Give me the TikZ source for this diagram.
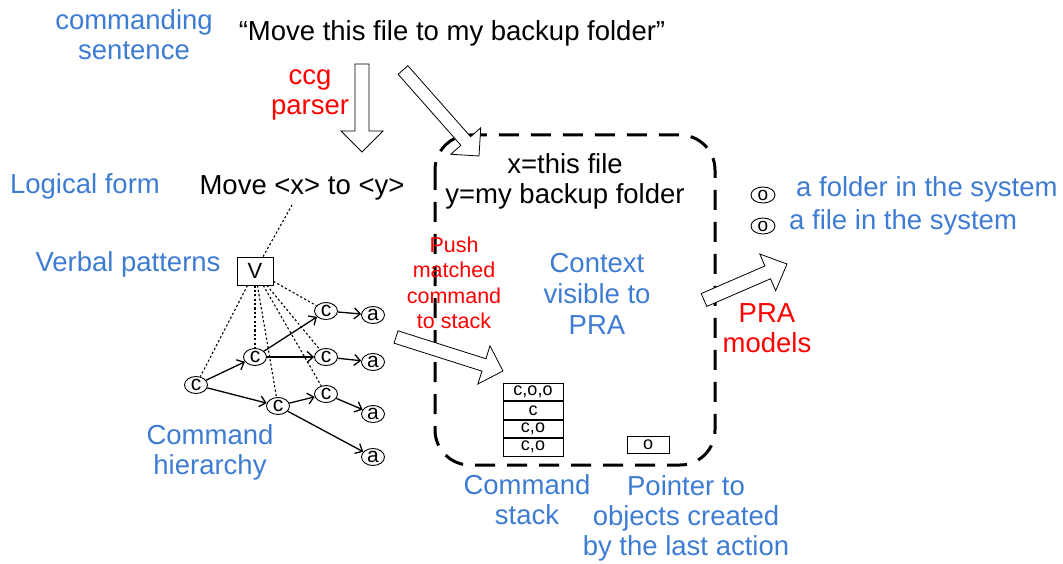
\documentclass[tikz,border=0pt]{standalone}
\usepackage{fontspec}
\setmainfont{Liberation Sans}
\usetikzlibrary{calc,shapes.geometric,arrows.meta}

\definecolor{lblblue}{RGB}{62,124,212}
\definecolor{lblred}{RGB}{255,0,0}

\tikzset{
  % hollow block arrow drawn along +x: length / shaft half-width / head half-width / head length
  pics/barrow/.style n args={4}{code={
    \draw[line width=0.8pt, fill=white, line join=miter]
      (0,#2) -- ({#1-#4},#2) -- ({#1-#4},#3) -- (#1,0) -- ({#1-#4},-#3)
      -- ({#1-#4},-#2) -- (0,-#2) -- cycle;
  }},
  big/.style={font=\fontsize{27.5}{30}\selectfont, align=center, inner sep=0pt},
  bluetext/.style={big, text=lblblue},
  redtext/.style={big, text=lblred},
  smallred/.style={font=\fontsize{21.5}{25.5}\selectfont, align=center, inner sep=0pt, text=lblred},
  gnode/.style={ellipse, draw, line width=0.9pt, inner sep=0pt,
    minimum width=23pt, minimum height=17pt, font=\fontsize{21}{21}\selectfont},
  onode/.style={ellipse, draw, line width=0.9pt, inner sep=0pt,
    minimum width=24pt, minimum height=16pt, font=\fontsize{19}{19}\selectfont},
  edge/.style={line width=1.3pt, -{Straight Barb[length=6pt,width=11pt,line width=1.3pt]}},
  pattern/.style={line width=1.1pt, dash pattern=on 2.2pt off 2.2pt},
  cell/.style={draw, line width=0.9pt, minimum width=60pt, minimum height=17.5pt,
    inner sep=0pt, font=\fontsize{18}{18}\selectfont},
}

% hollow arrow from one named point to another
\newcommand\hollowarrow[5]{%
  \path let \p1=($(#2)-(#1)$), \n1={veclen(\x1,\y1)}, \n2={atan2(\y1,\x1)} in
    (#1) pic[rotate=\n2]{barrow={\n1}{#3}{#4}{#5}};}

\begin{document}
\begin{tikzpicture}[x=1pt, y=-1pt]
  \useasboundingbox (0,0) rectangle (1063,564);

  % ---- sentence and parsing ----
  \node[bluetext] (cmdlbl) at (134,35) {commanding\\sentence};
  \node[big] (sentence) at (452,33) {“Move this file to my backup folder”};
  \node[redtext] (ccg) at (310,95) {ccg\\parser};

  \node[bluetext] (lflbl) at (85,186) {Logical form};
  \node[big] (lf) at (302,188) {Move <x> to <y>};
  \coordinate (lfx) at (292,205);

  \node[bluetext] (vplbl) at (128,264) {Verbal patterns};
  \node[draw, line width=0.9pt, minimum width=36pt, minimum height=28pt, inner sep=0pt,
        font=\fontsize{22}{22}\selectfont] (V) at (255,271) {V};
  \node[bluetext] (hierlbl) at (210,452) {Command\\hierarchy};

  % ---- command hierarchy ----
  \node[gnode] (c1) at (196,385) {c};
  \node[gnode] (c2) at (255,357) {c};
  \node[gnode] (c3) at (278,406) {c};
  \node[gnode] (c4) at (326,311) {c};
  \node[gnode] (c5) at (326,357) {c};
  \node[gnode] (c6) at (326,394) {c};
  \node[gnode] (a1) at (373,315) {a};
  \node[gnode] (a2) at (373,362) {a};
  \node[gnode] (a3) at (373,414) {a};
  \node[gnode] (a4) at (373,457) {a};

  \draw[pattern] (V) -- (lfx);
  \foreach \t in {c1,c2,c3,c4,c5,c6} \draw[pattern] (V) -- (\t);

  \draw[edge] (c1) -- (c2);
  \draw[edge] (c1) -- (c3);
  \draw[edge] (c2) -- (c4);
  \draw[edge] (c2) -- (c5);
  \draw[edge] (c3) -- (c6);
  \draw[edge] (c4) -- (a1);
  \draw[edge] (c5) -- (a2);
  \draw[edge] (c6) -- (a3);
  \draw[edge] (c3) -- (a4);

  % ---- context visible to PRA ----
  \draw[line width=3pt, dash pattern=on 20pt off 12pt, rounded corners=35pt]
    (435,135) rectangle (715,465);
  \node[big] (bind) at (565,181) {x=this file\\y=my backup folder};
  \node[smallred] (push) at (454,283) {Push\\matched\\command\\to stack};
  \node[bluetext, font=\fontsize{27.5}{31}\selectfont] (ctx) at (597,294) {Context\\visible to\\PRA};

  \node[cell] (s1) at (533,392) {c,o,o};
  \node[cell, anchor=north] (s2) at (s1.south) {c};
  \node[cell, anchor=north] (s3) at (s2.south) {c,o};
  \node[cell, anchor=north] (s4) at (s3.south) {c,o};
  \node[cell, minimum width=42pt, minimum height=17pt] (ptr) at (648,444.5) {o};

  \node[bluetext] (stacklbl) at (527,500) {Command\\stack};
  \node[bluetext] (ptrlbl) at (686,518) {Pointer to\\objects created\\by the last action};

  % ---- objects in the system ----
  \node[onode] (o1) at (763,195) {o};
  \node[onode] (o2) at (763,226) {o};
  \node[bluetext, anchor=west] (folder) at (796,189) {a folder in the system};
  \node[bluetext, anchor=west] (file) at (789,222) {a file in the system};
  \node[redtext] (pra) at (767,328) {PRA\\models};

  % ---- hollow block arrows ----
  \coordinate (ccgA) at (362,64);   \coordinate (ccgB) at (362,152);
  \coordinate (diagA) at (403,70);  \coordinate (diagB) at (479,156);
  \coordinate (pushA) at (396,337); \coordinate (pushB) at (503,371);
  \coordinate (praA) at (704,300);  \coordinate (praB) at (787,264);
  \hollowarrow{ccgA}{ccgB}{7}{21}{21}
  \hollowarrow{diagA}{diagB}{6.5}{20}{20}
  \hollowarrow{pushA}{pushB}{6.5}{20}{20}
  \hollowarrow{praA}{praB}{7}{20}{21}
\end{tikzpicture}
\end{document}
